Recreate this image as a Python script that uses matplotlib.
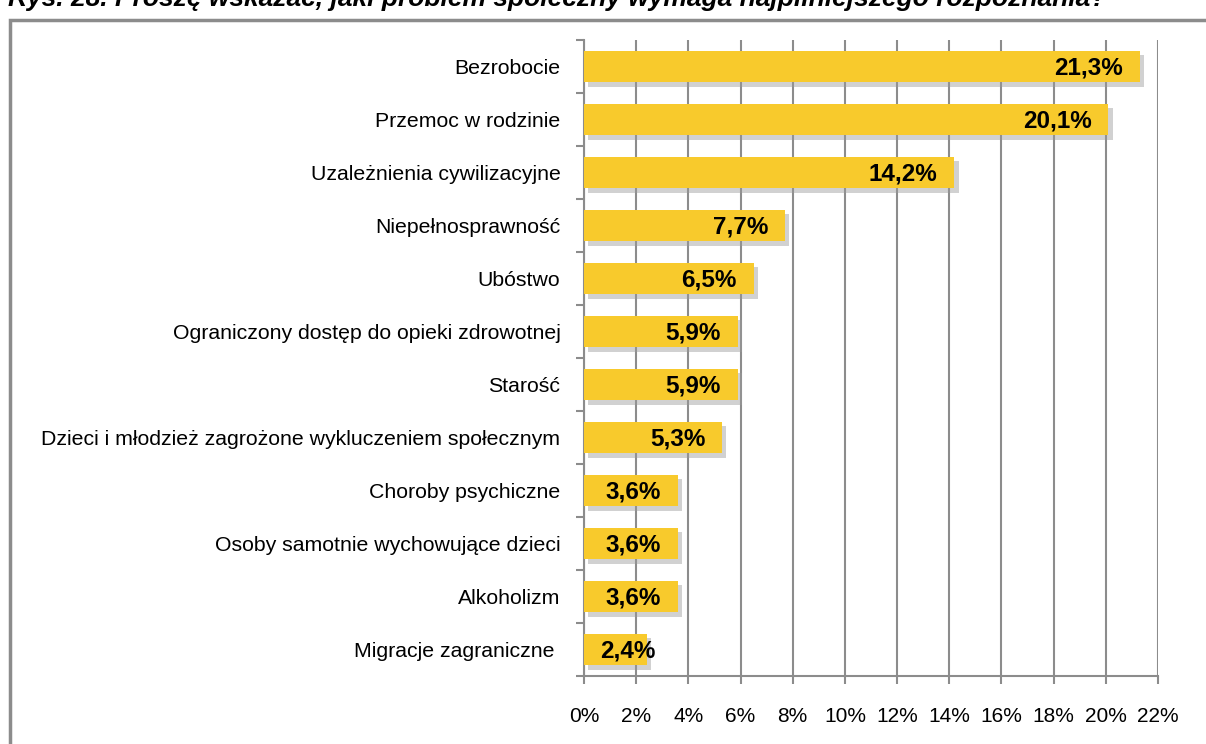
import numpy as np
import matplotlib.pyplot as plt
from matplotlib import patheffects as pe
from matplotlib.patches import Rectangle

plt.rcParams['font.family'] = ['Liberation Sans', 'DejaVu Sans']

# data (top to bottom)
categories = ['Bezrobocie', 'Przemoc w rodzinie', 'Uzależnienia cywilizacyjne',
              'Niepełnosprawność', 'Ubóstwo', 'Ograniczony dostęp do opieki zdrowotnej',
              'Starość', 'Dzieci i młodzież zagrożone wykluczeniem społecznym',
              'Choroby psychiczne', 'Osoby samotnie wychowujące dzieci',
              'Alkoholizm', 'Migracje zagraniczne ']
values = [21.3, 20.1, 14.2, 7.7, 6.5, 5.9, 5.9, 5.3, 3.6, 3.6, 3.6, 2.4]
xticks = np.arange(0, 23, 2)

title = 'Rys. 28. Proszę wskazać, jaki problem społeczny wymaga najpilniejszego rozpoznania?'

fig = plt.figure(figsize=(12.06, 7.44), dpi=100)
fig.text(8 / 1206, 1 - 11 / 744, title, fontsize=19, fontweight='bold', style='italic',
         ha='left', va='bottom')
# outer frame (cut off on the right and bottom)
fig.patches.append(Rectangle((10 / 1206, -0.1), 1.2, 1 - 20 / 744 + 0.1,
                             transform=fig.transFigure, fill=False,
                             edgecolor='#8c8c8c', linewidth=2.5))

ax = fig.add_axes([584 / 1206, 1 - 676 / 744, 574 / 1206, 636 / 744])
y = np.arange(len(categories))
bars = ax.barh(y, values, height=0.6, color='#F8CA2C', zorder=3)
for b in bars:
    b.set_path_effects([pe.SimplePatchShadow(offset=(3, -3), shadow_rgbFace='#9a9a9a', alpha=0.45),
                        pe.Normal()])

for yi, v in zip(y, values):
    lab = f'{v:.1f}%'.replace('.', ',')
    if v < 3:
        ax.text(0.6, yi + 0.02, lab, ha='left', va='center', fontsize=17.5,
                fontweight='bold', zorder=5)
    else:
        ax.text(v - 0.65, yi + 0.02, lab, ha='right', va='center', fontsize=17.5,
                fontweight='bold', zorder=5)

ax.set_xlim(0, 22)
ax.set_ylim(len(categories) - 0.5, -0.5)
ax.set_xticks(xticks)
ax.set_xticklabels([f'{t}%' for t in xticks], fontsize=15)
ax.set_yticks(y)
ax.set_yticklabels(categories, fontsize=15.3)
ax.set_yticks(np.arange(-0.5, len(categories), 1), minor=True)
ax.tick_params(axis='y', which='major', length=0, pad=17)
ax.tick_params(axis='y', which='minor', length=6, color='#8c8c8c', width=1.5)
ax.tick_params(axis='x', length=6, color='#8c8c8c', width=1.5, pad=16)
ax.grid(axis='x', color='#8c8c8c', linewidth=1.5, zorder=0)
ax.set_axisbelow(True)
for s in ['top', 'right']:
    ax.spines[s].set_visible(False)
for s in ['left', 'bottom']:
    ax.spines[s].set_color('#8c8c8c')
    ax.spines[s].set_linewidth(1.5)

fig.savefig('out.png', dpi=100)
